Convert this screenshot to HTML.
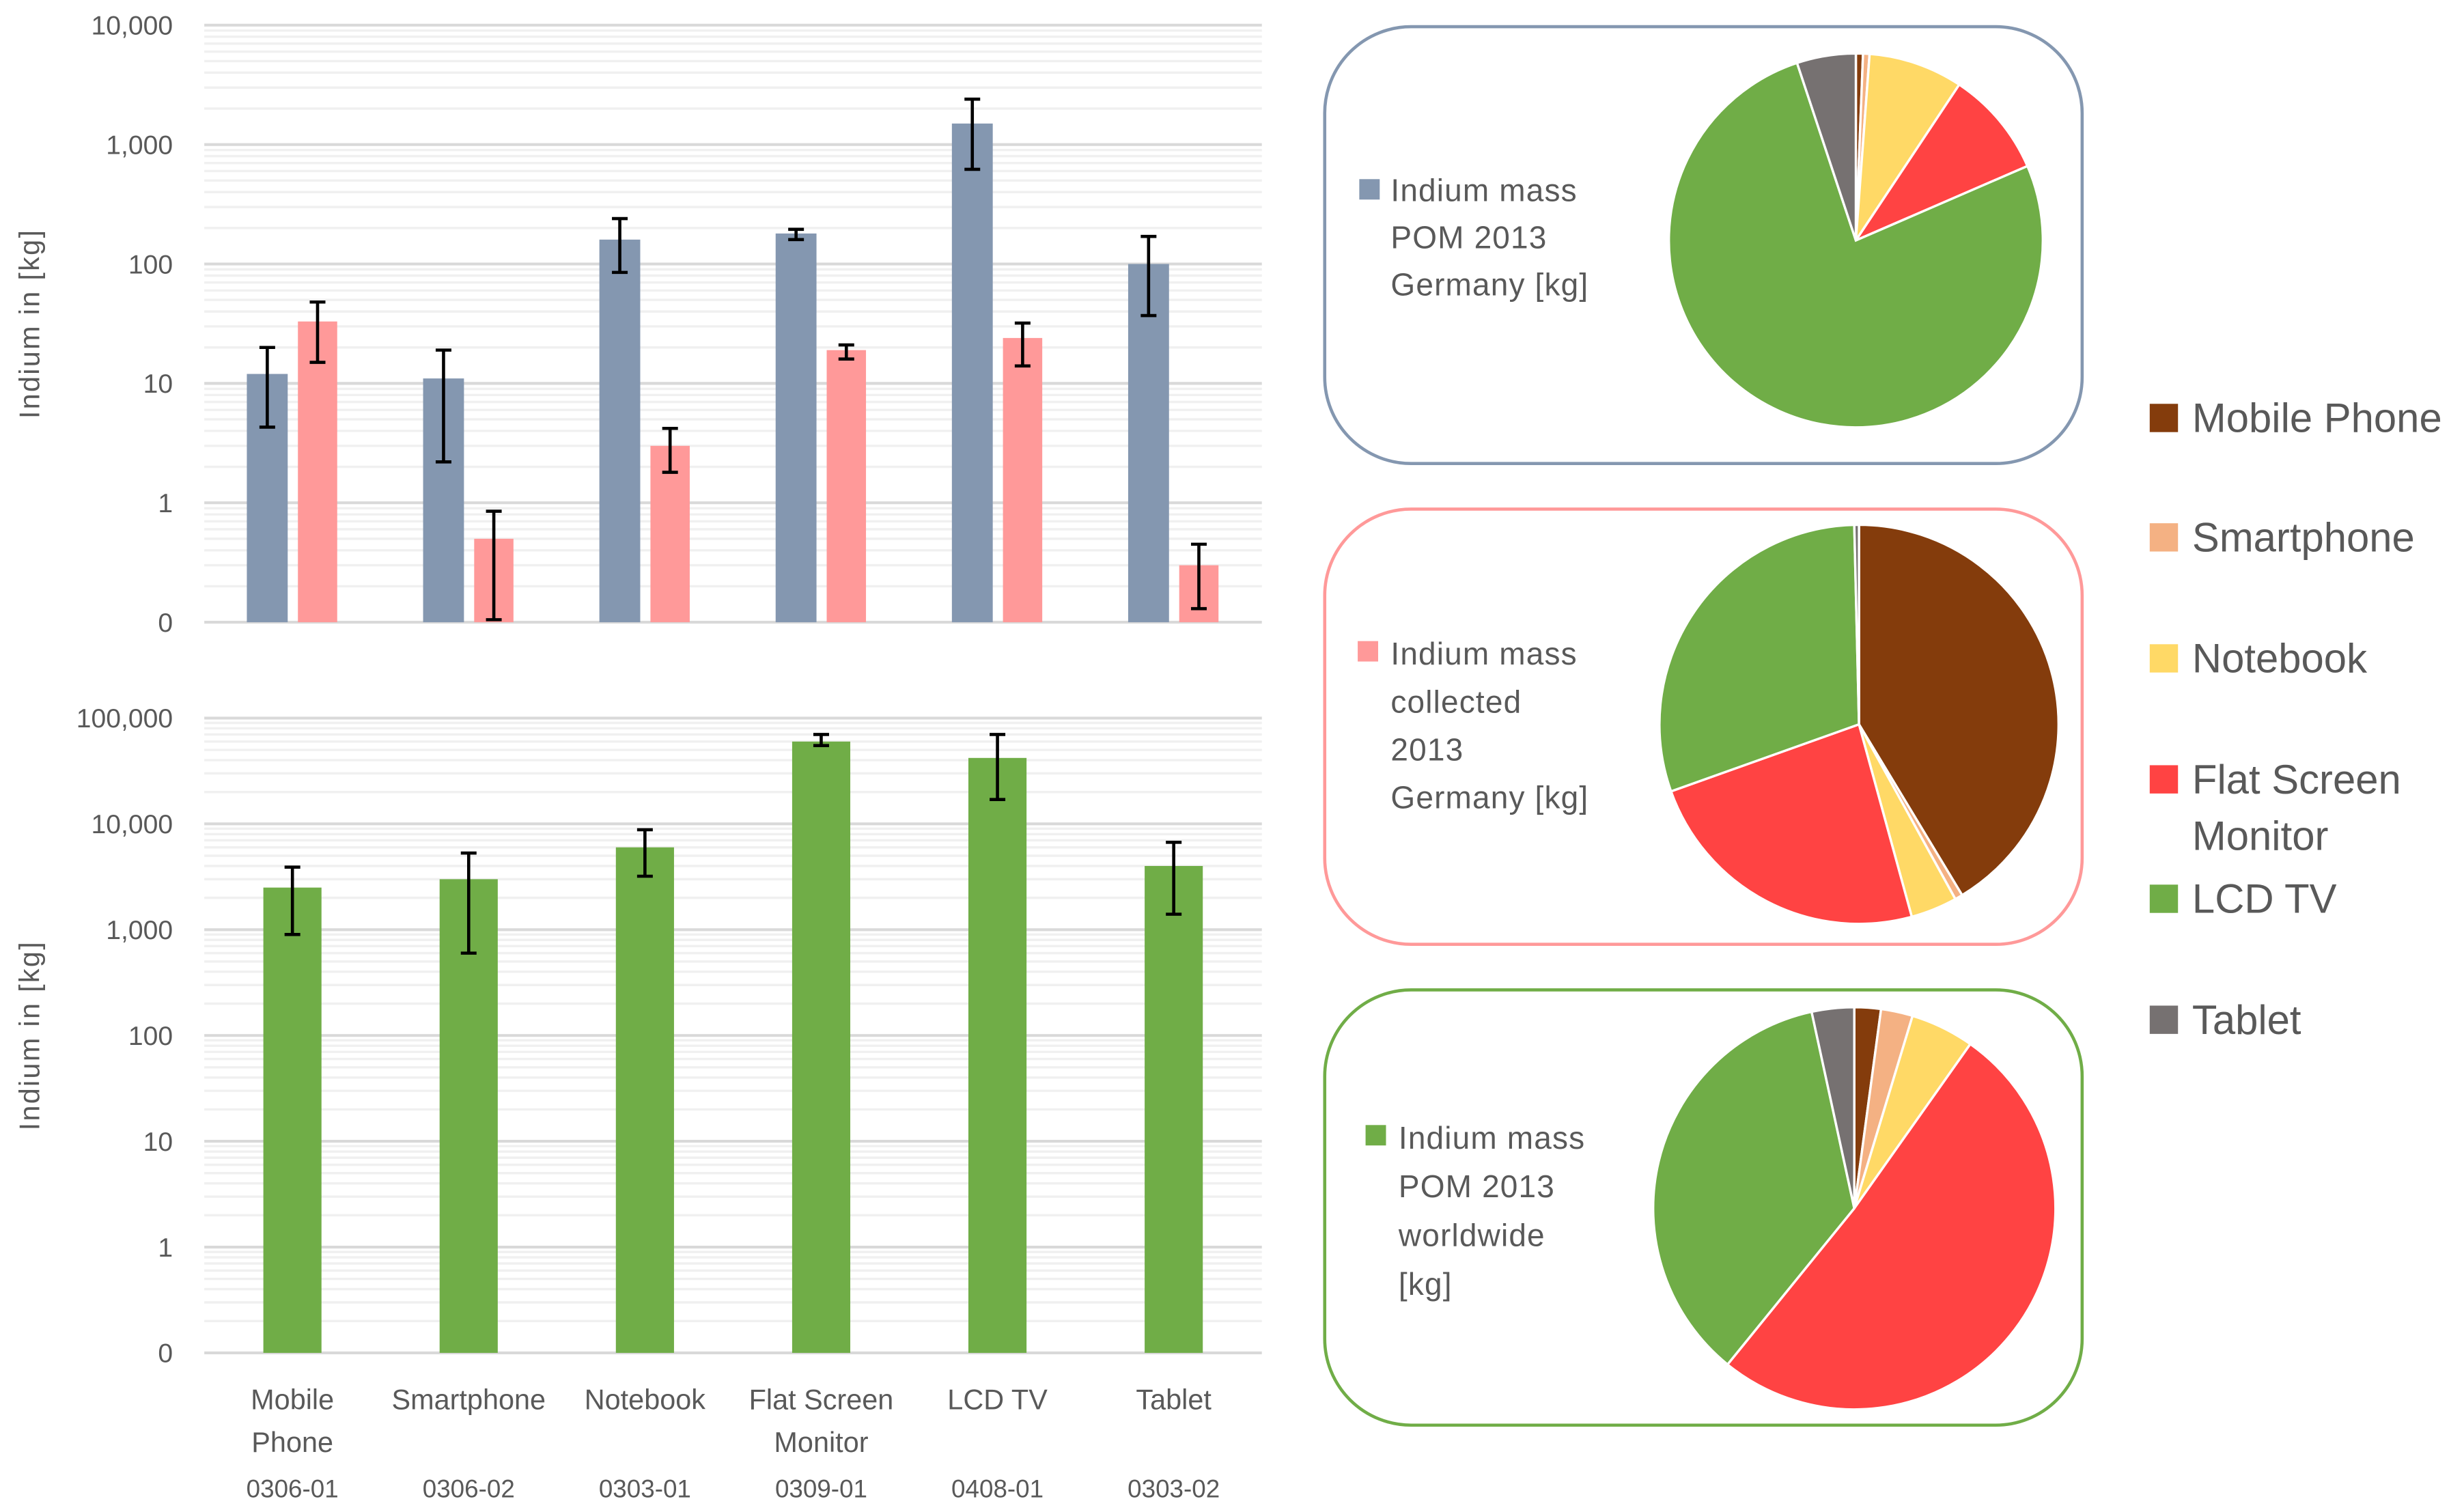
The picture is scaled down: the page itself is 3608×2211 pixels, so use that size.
<!DOCTYPE html>
<html><head><meta charset="utf-8"><style>
html,body{margin:0;padding:0;background:#fff}
svg{display:block}
text{font-family:"Liberation Sans",sans-serif;fill:#595959}
</style></head><body>
<svg id="chart" width="3608" height="2211" viewBox="0 0 1568 961" preserveAspectRatio="none" xmlns="http://www.w3.org/2000/svg">
<g id="top"></g>
<g id="bot"></g>
<g id="pies"></g>
<g id="legend"></g>
</svg>
<script>
const categories = ["Mobile Phone","Smartphone","Notebook","Flat Screen Monitor","LCD TV","Tablet"];
const codes = ["0306-01","0306-02","0303-01","0309-01","0408-01","0303-02"];
const pomDE = [12, 11, 160, 180, 1500, 100];
const pomDELow = [4.3, 2.2, 85, 160, 620, 37];
const pomDEHigh = [20, 19, 240, 195, 2400, 170];
const collDE = [33, 0.5, 3, 19, 24, 0.3];
const collDELow = [15, 0.105, 1.8, 16, 14, 0.13];
const collDEHigh = [48, 0.85, 4.2, 21, 32, 0.45];
const pomWW = [2500, 3000, 6000, 60000, 42000, 4000];
const pomWWLow = [900, 600, 3200, 55000, 17000, 1400];
const pomWWHigh = [3900, 5300, 8800, 70000, 70000, 6700];
const topTicks = ["0","1","10","100","1,000","10,000"];
const botTicks = ["0","1","10","100","1,000","10,000","100,000"];
const sliceColors = ["#843c0c","#f4b183","#ffd966","#ff4343","#70ad47","#767171"];
const legendLabels = ["Mobile Phone","Smartphone","Notebook","Flat Screen","LCD TV","Tablet"];

const NS="http://www.w3.org/2000/svg";
function mk(parent,tag,attrs,txt){const e=document.createElementNS(NS,tag);for(const k in attrs)e.setAttribute(k,attrs[k]);if(txt!==undefined)e.textContent=txt;parent.appendChild(e);return e;}
const X0=130,X1=803,CW=(X1-X0)/6;
function xc(i){return X0+CW*(i+0.5);}

function axis(g,yb,yt,nDec,ticks){
  const dec=(yb-yt)/nDec;
  const y=v=>yb-(Math.log10(v)+1)*dec;
  for(let d=0;d<nDec;d++){for(let m=2;m<10;m++){const yy=y(m*Math.pow(10,d-1));
    const l=mk(g,"line",{x1:X0,x2:X1,y1:yy,y2:yy,stroke:"#f0f0f0","stroke-width":1.5});
    
    }}
  ticks.forEach((t,k)=>{const yy=y(Math.pow(10,k-1));
    const l=mk(g,"line",{x1:X0,x2:X1,y1:yy,y2:yy,stroke:"#d9d9d9","stroke-width":1.8});
    
    
    const tx=mk(g,"text",{x:110,y:yy+6,"text-anchor":"end","font-size":17},t);
    
    });
  const ti=mk(g,"text",{transform:`translate(25,${(yb+yt)/2}) rotate(-90)`,"text-anchor":"middle","font-size":18,"letter-spacing":1},"Indium in [kg]");
  
  
  return y;
}
function bar(g,cx,w,v,lo,hi,y,yb,color,name){
  const r=mk(g,"rect",{x:cx-w/2,y:y(v),width:w,height:yb-y(v),fill:color});
  
  
  const e=mk(g,"path",{d:`M${cx},${y(hi)}V${y(lo)}M${cx-5},${y(hi)}H${cx+5}M${cx-5},${y(lo)}H${cx+5}`,stroke:"#000","stroke-width":2,fill:"none"});
  
  
}
const gt=document.getElementById("top");
const yT=axis(gt,396,16,5,topTicks);
categories.forEach((c,i)=>{
  bar(gt,xc(i)-16,26,pomDE[i],pomDELow[i],pomDEHigh[i],yT,396,"#8497b0","bar-pom-germany");
  bar(gt,xc(i)+16,25,collDE[i],collDELow[i],collDEHigh[i],yT,396,"#ff9999","bar-collected-germany");
});
const gb=document.getElementById("bot");
const yB=axis(gb,861,457,6,botTicks);
categories.forEach((c,i)=>{
  bar(gb,xc(i),37,pomWW[i],pomWWLow[i],pomWWHigh[i],yB,861,"#70ad47","bar-pom-worldwide");
  const parts=c==="Mobile Phone"?["Mobile","Phone"]:c==="Flat Screen Monitor"?["Flat Screen","Monitor"]:[c];
  parts.forEach((p,k)=>{const t=mk(gb,"text",{x:xc(i),y:897+k*27,"text-anchor":"middle","font-size":18},p);
    
    });
  const t=mk(gb,"text",{x:xc(i),y:953,"text-anchor":"middle","font-size":16},codes[i]);
  
  
});

const gp=document.getElementById("pies");
const panels=[
 {y:17,h:278,stroke:"#8497b0",data:pomDE,cx:1181,cy:153,r:119,mx:865,my:114,tx:885,ty:128,lh:30,lines:["Indium mass","POM 2013","Germany [kg]"],name:"pie-pom-germany"},
 {y:324,h:277,stroke:"#ff9999",data:collDE,cx:1183,cy:461,r:127,mx:864,my:408,tx:885,ty:423,lh:30.5,lines:["Indium mass","collected","2013","Germany [kg]"],name:"pie-collected-germany"},
 {y:630,h:277,stroke:"#70ad47",data:pomWW,cx:1180,cy:769,r:128,mx:869,my:716,tx:890,ty:731,lh:31,lines:["Indium mass","POM 2013","worldwide","[kg]"],name:"pie-pom-worldwide"}];
panels.forEach(p=>{
  const b=mk(gp,"rect",{x:843,y:p.y,width:482,height:p.h,rx:55,ry:55,fill:"none",stroke:p.stroke,"stroke-width":2});
  
  
  const tot=p.data.reduce((a,b)=>a+b,0);let a0=0;
  p.data.forEach((v,i)=>{const a1=a0+v/tot*2*Math.PI;
    const x0=p.cx+p.r*Math.sin(a0),y0=p.cy-p.r*Math.cos(a0),x1=p.cx+p.r*Math.sin(a1),y1=p.cy-p.r*Math.cos(a1);
    const s=mk(gp,"path",{d:`M${p.cx},${p.cy}L${x0},${y0}A${p.r},${p.r} 0 ${a1-a0>Math.PI?1:0} 1 ${x1},${y1}Z`,fill:sliceColors[i],stroke:"#fff","stroke-width":1.5});
    
    
    a0=a1;});
  const m=mk(gp,"rect",{x:p.mx,y:p.my,width:13,height:13,fill:p.stroke});
  
  
  p.lines.forEach((l,k)=>{const t=mk(gp,"text",{x:p.tx,y:p.ty+k*p.lh,"font-size":20,"letter-spacing":0.5},l);
    
    });
});
const gl=document.getElementById("legend");
const ly=[266,342,419,496,572,649];
legendLabels.forEach((l,i)=>{
  const r=mk(gl,"rect",{x:1368,y:ly[i]-9,width:18,height:18,fill:sliceColors[i]});
  
  
  const t=mk(gl,"text",{x:1395,y:ly[i]+9,"font-size":26},l);
  
  
});
const t2=mk(gl,"text",{x:1395,y:541,"font-size":26},"Monitor");


</script>
</body></html>
